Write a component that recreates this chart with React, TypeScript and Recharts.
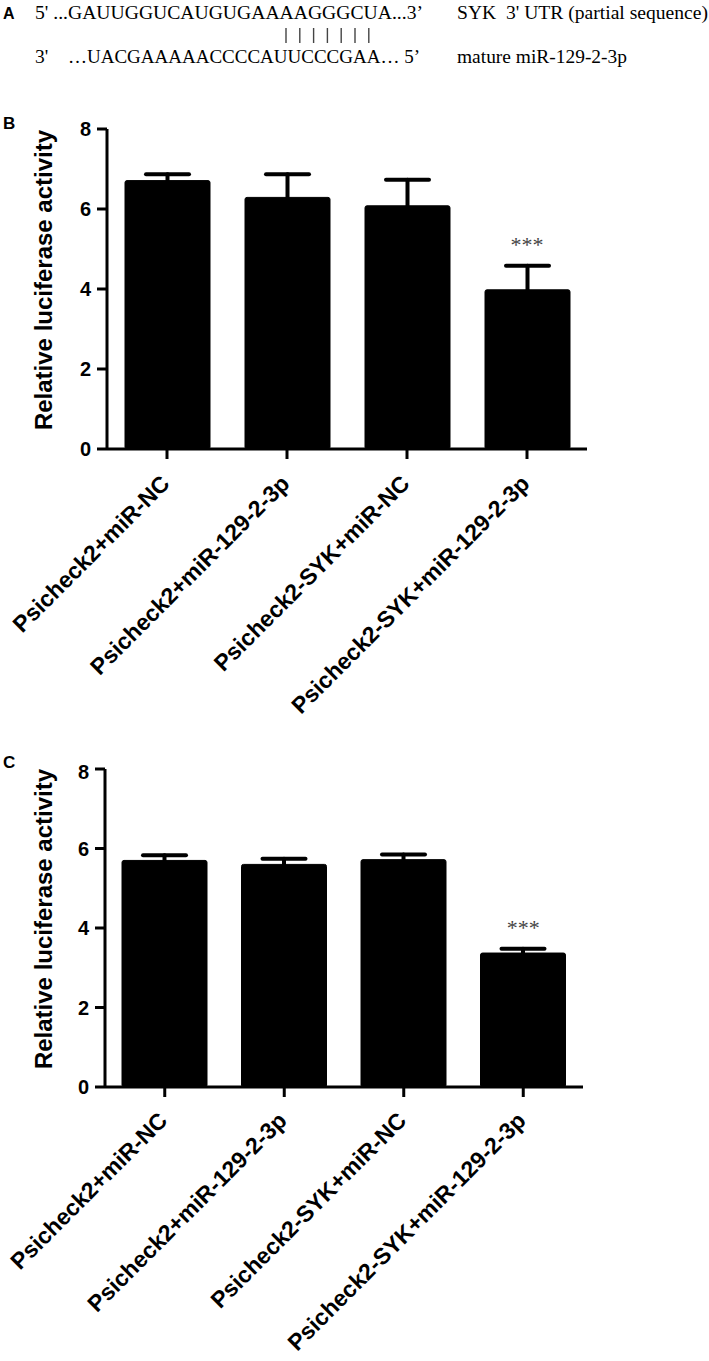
import React from 'react';
import { BarChart, Bar, XAxis, YAxis, ErrorBar, ReferenceDot } from 'recharts';

const categories = [
  'Psicheck2+miR-NC',
  'Psicheck2+miR-129-2-3p',
  'Psicheck2-SYK+miR-NC',
  'Psicheck2-SYK+miR-129-2-3p',
];
const meansB = [6.71, 6.29, 6.08, 3.98];
const errB = [0.16, 0.58, 0.65, 0.6];
const meansC = [5.7, 5.6, 5.72, 3.37];
const errC = [0.13, 0.14, 0.13, 0.11];
const sigLabels = ['', '', '', '***'];
const yTicks = [0, 2, 4, 6, 8];
const yTitle = 'Relative luciferase activity';

const utrLine = "5' ...GAUUGGUCAUGUGAAAAGGGCUA...3\u2019";
const utrName = "SYK  3' UTR (partial sequence)";
const mirLine = '\u2026UACGAAAAACCCCAUUCCCGAA\u2026 5\u2019';
const mirName = 'mature miR-129-2-3p';
const pairCount = 7;

const build = (means: number[], errs: number[]) =>
  categories.map((name, i) => ({ name, value: means[i], err: errs[i], top: means[i] + errs[i], sig: sigLabels[i] }));

const dataB = build(meansB, errB);
const dataC = build(meansC, errC);

const SANS = '"Liberation Sans", Arial, sans-serif';
const SERIF = '"Liberation Serif", "Times New Roman", serif';

const makeTick = (dx: number, dy: number) => (props: any) => {
  const { x, y, payload } = props;
  return (
    <g transform={`translate(${x + dx},${y + dy})`}>
      <text
        textAnchor="end"
        transform="rotate(-45)"
        fontFamily={SANS}
        fontWeight="bold"
        fontSize={23}
        fill="#000"
      >
        {payload.value}
      </text>
    </g>
  );
};

const makeTitle = (cx: number, shiftUp: number) => (props: any) => {
  const vb = props && props.viewBox ? props.viewBox : { x: 0, y: 0, width: 0, height: 0 };
  const x = vb.x + cx;
  const y = vb.y + vb.height / 2 - shiftUp;
  return (
    <text
      x={x}
      y={y}
      dy="0.36em"
      transform={`rotate(-90, ${x}, ${y})`}
      textAnchor="middle"
      fontFamily={SANS}
      fontWeight="bold"
      fontSize={24}
      fill="#000"
    >
      {yTitle}
    </text>
  );
};

type PanelProps = {
  data: any[];
  width: number;
  height: number;
  margin: { top: number; right: number; bottom: number; left: number };
  yWidth: number;
  xHeight: number;
  tickDy: number;
};

const Panel = ({ data, width, height, margin, yWidth, xHeight, tickDy }: PanelProps) => (
  <BarChart width={width} height={height} data={data} margin={margin}>
    <XAxis
      dataKey="name"
      interval={0}
      height={xHeight}
      tickSize={10}
      tickMargin={2}
      axisLine={{ stroke: '#000', strokeWidth: 3 }}
      tickLine={{ stroke: '#000', strokeWidth: 3 }}
      tick={makeTick(4, tickDy)}
    />
    <YAxis
      width={yWidth}
      domain={[0, 8]}
      ticks={yTicks}
      tickSize={10}
      tickMargin={6}
      axisLine={{ stroke: '#000', strokeWidth: 3 }}
      tickLine={{ stroke: '#000', strokeWidth: 3 }}
      tick={{ fill: '#000', fontSize: 20, fontWeight: 'bold', fontFamily: SANS }}
      label={{ content: makeTitle(43, 9) }}
    />
    <Bar dataKey="value" fill="#000" stroke="#000" strokeWidth={1} radius={2} barSize={85} isAnimationActive={false}>
      <ErrorBar dataKey="err" direction="y" width={21.5} strokeWidth={4} stroke="#000" strokeLinecap="round" />
    </Bar>
    {data
      .filter((d) => d.sig)
      .map((d) => (
        <ReferenceDot
          key={d.name}
          x={d.name}
          y={d.top}
          r={0}
          fill="none"
          stroke="none"
          label={{
            value: d.sig,
            position: 'top',
            offset: 14,
            style: { fontSize: 22, fontFamily: SERIF, fill: '#444' },
          }}
        />
      ))}
  </BarChart>
);

export default function App() {
  const pairs = Array.from({ length: pairCount }, (_, i) => i);
  return (
    <div style={{ position: 'absolute', left: 0, top: 0, width: 709, height: 1361, background: '#fff' }}>
      <div style={{ position: 'absolute', left: 0, top: 80 }}>
        <Panel
          data={dataB}
          width={709}
          height={680}
          margin={{ top: 49, right: 122, bottom: 21, left: 0 }}
          yWidth={107}
          xHeight={290}
          tickDy={24}
        />
      </div>
      <div style={{ position: 'absolute', left: 0, top: 760 }}>
        <Panel
          data={dataC}
          width={709}
          height={601}
          margin={{ top: 9, right: 126, bottom: 20, left: 0 }}
          yWidth={105}
          xHeight={254}
          tickDy={23}
        />
      </div>
      <svg
        width={709}
        height={1361}
        style={{ position: 'absolute', left: 0, top: 0, pointerEvents: 'none' }}
      >
        <text x={3} y={18.5} fontFamily={SANS} fontWeight="bold" fontSize={16} fill="#000">A</text>
        <text x={35} y={19} fontFamily={SERIF} fontSize={19.5} fill="#000" textLength={388} lengthAdjust="spacingAndGlyphs" style={{ whiteSpace: 'pre' }}>{utrLine}</text>
        <text x={457} y={19} fontFamily={SERIF} fontSize={19.5} fill="#000" textLength={251} lengthAdjust="spacingAndGlyphs" style={{ whiteSpace: 'pre' }}>{utrName}</text>
        {pairs.map((i) => (
          <line key={i} x1={286 + i * 13.8} x2={286 + i * 13.8} y1={28} y2={43} stroke="#444" strokeWidth={1.4} />
        ))}
        <text x={35} y={63} fontFamily={SERIF} fontSize={19.5} fill="#000">3'</text>
        <text x={68} y={63} fontFamily={SERIF} fontSize={19.5} fill="#000" textLength={352} lengthAdjust="spacingAndGlyphs" style={{ whiteSpace: 'pre' }}>{mirLine}</text>
        <text x={457} y={63} fontFamily={SERIF} fontSize={19.5} fill="#000" textLength={170} lengthAdjust="spacingAndGlyphs">{mirName}</text>
        <text x={3} y={129} fontFamily={SANS} fontWeight="bold" fontSize={17} fill="#000">B</text>
        <text x={3} y={768} fontFamily={SANS} fontWeight="bold" fontSize={17} fill="#000">C</text>
      </svg>
    </div>
  );
}
